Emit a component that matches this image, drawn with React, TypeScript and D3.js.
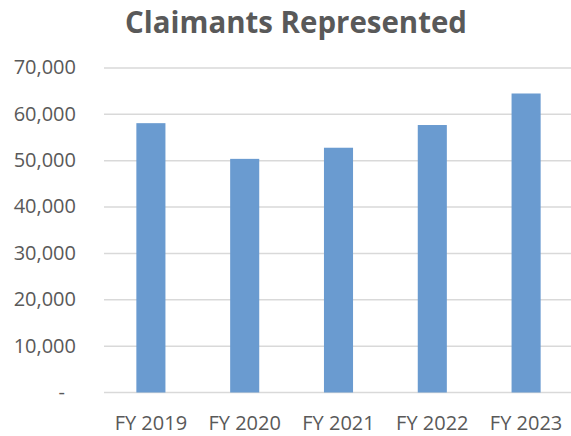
import React from "react";
import * as d3 from "d3";

const categories = ["FY 2019", "FY 2020", "FY 2021", "FY 2022", "FY 2023"];
const claimants = [58100, 50400, 52800, 57700, 64500];
const yTicks = [0, 10000, 20000, 30000, 40000, 50000, 60000, 70000];
const title = "Claimants Represented";

const W = 571;
const H = 436;
const left = 104;
const right = 573;
const top = 68;
const bottom = 392.5;

export default function App() {
  const x = d3.scaleBand<string>().domain(categories).range([left, right]).paddingInner(0.69).paddingOuter(0.345);
  const y = d3.scaleLinear().domain([0, 70000]).range([bottom, top]);
  const fmt = d3.format(",");
  const font = "'Open Sans', 'Liberation Sans', sans-serif";
  return (
    <svg width={W} height={H} style={{ position: "absolute", left: 0, top: 0, background: "#fff" }}>
      <rect x={0} y={0} width={W} height={H} fill="#fff" />
      <text
        x={296}
        y={33}
        textAnchor="middle"
        fontFamily={font}
        fontWeight="bold"
        fontSize={31}
        fill="#595959"
        textLength={342}
        lengthAdjust="spacingAndGlyphs"
      >
        {title}
      </text>
      {yTicks.map((t) => (
        <g key={t}>
          <line x1={left} x2={right} y1={y(t)} y2={y(t)} stroke="#d9d9d9" strokeWidth={1.5} />
          <text
            x={t === 0 ? 65 : 76}
            y={y(t)}
            dy="0.32em"
            textAnchor="end"
            fontFamily={font}
            fontSize={20}
            fill="#595959"
          >
            {t === 0 ? "-" : fmt(t)}
          </text>
        </g>
      ))}
      {categories.map((c, i) => (
        <rect
          key={c}
          x={x(c)}
          y={y(claimants[i])}
          width={x.bandwidth()}
          height={bottom - y(claimants[i])}
          fill="#6a9bd0"
        />
      ))}
      {categories.map((c) => (
        <text
          key={c}
          x={(x(c) as number) + x.bandwidth() / 2}
          y={430}
          textAnchor="middle"
          fontFamily={font}
          fontSize={20}
          fill="#595959"
        >
          {c}
        </text>
      ))}
    </svg>
  );
}
